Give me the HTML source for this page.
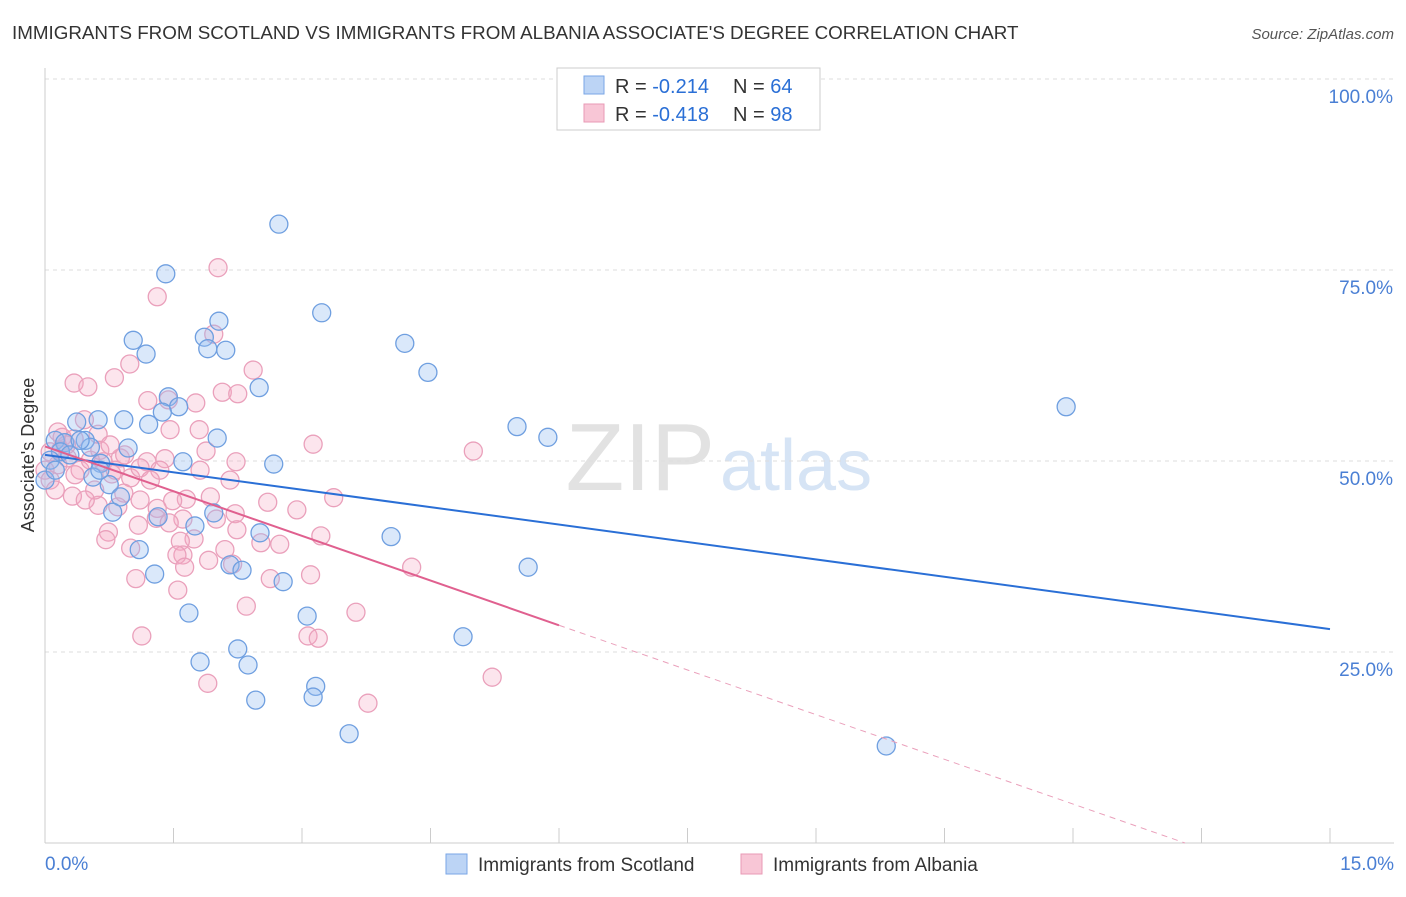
<!DOCTYPE html>
<html><head><meta charset="utf-8"><style>
body{margin:0;background:#fff;font-family:"Liberation Sans",sans-serif}
svg text{font-family:"Liberation Sans",sans-serif}
</style></head><body>
<svg id="chart" width="1406" height="892" xmlns="http://www.w3.org/2000/svg">
<text x="12" y="39" font-size="18.8" fill="#333">IMMIGRANTS FROM SCOTLAND VS IMMIGRANTS FROM ALBANIA ASSOCIATE'S DEGREE CORRELATION CHART</text>
<text x="1394" y="39" font-size="15" fill="#555" text-anchor="end" font-style="italic">Source: ZipAtlas.com</text>
<g>
<text x="715" y="490" font-size="96" fill="#e2e2e2" text-anchor="end" font-family="Liberation Serif">ZIP</text>
<text x="720" y="490" font-size="72" fill="#d6e4f5">atlas</text>
</g>
<g id="grid"></g><g id="axes"></g><g id="pts"></g><g id="trends"></g>
<g>
<rect x="557" y="68" width="263" height="62" fill="#fff" stroke="#ccc"/>
<rect x="584" y="76" width="20" height="18" fill="#bcd4f5" stroke="#7aa6e6"/>
<rect x="584" y="104" width="20" height="18" fill="#f8c6d6" stroke="#e89ab5"/>
<text x="615" y="93" font-size="20" fill="#333">R = <tspan fill="#2a6fd6">-0.214</tspan></text>
<text x="733" y="93" font-size="20" fill="#333">N = <tspan fill="#2a6fd6">64</tspan></text>
<text x="615" y="121" font-size="20" fill="#333">R = <tspan fill="#2a6fd6">-0.418</tspan></text>
<text x="733" y="121" font-size="20" fill="#333">N = <tspan fill="#2a6fd6">98</tspan></text>
</g>
<g>
<rect x="446" y="854" width="21" height="20" fill="#bcd4f5" stroke="#7aa6e6"/>
<text x="478" y="871" font-size="19" fill="#333">Immigrants from Scotland</text>
<rect x="741" y="854" width="21" height="20" fill="#f8c6d6" stroke="#e89ab5"/>
<text x="773" y="871" font-size="19" fill="#333">Immigrants from Albania</text>
</g>
<text x="34" y="455" font-size="18" fill="#333" text-anchor="middle" transform="rotate(-90 34 455)">Associate's Degree</text>
</svg>
<script>
const yTicks=[25,50,75,100];
const yTickLabels=["25.0%","50.0%","75.0%","100.0%"];
const xTickCount=10;
const xEndLabels=["0.0%","15.0%"];
const scotX=[2.73,1.41,3.23,2.03,1.03,1.86,2.11,1.90,1.18,4.20,4.47,2.50,11.92,1.44,1.56,1.37,0.92,0.62,0.37,1.21,5.51,5.87,2.01,0.12,0.23,0.47,0.53,0.97,0.18,1.61,2.67,0.65,0.56,0.75,0.88,0.79,1.97,1.32,1.75,2.51,4.04,1.10,2.16,2.30,2.78,5.64,1.28,1.68,3.06,4.88,2.25,2.37,1.81,3.16,3.13,2.46,3.55,9.82,0.0,0.06,0.12,0.29,0.41,0.64];
const scotY=[81.0,74.5,69.4,68.3,65.8,66.2,64.5,64.7,64.0,65.4,61.6,59.6,57.1,58.4,57.1,56.4,55.4,55.4,55.1,54.8,54.5,53.1,53.0,52.7,52.4,52.7,51.8,51.7,51.2,49.9,49.6,49.7,47.9,46.9,45.3,43.3,43.2,42.7,41.5,40.6,40.1,38.4,36.4,35.7,34.2,36.1,35.2,30.1,29.7,27.0,25.4,23.3,23.7,20.5,19.1,18.7,14.3,12.7,47.5,50.1,48.8,50.8,52.7,48.8];
const albX=[2.02,1.31,1.97,2.43,0.99,0.81,0.34,0.50,2.07,2.25,1.44,1.20,1.76,0.46,0.15,0.62,1.80,0.20,0.34,3.13,5.00,1.88,0.06,0.26,0.88,1.19,1.40,2.23,0.68,0.15,0.41,1.00,1.11,0.78,0.0,0.32,0.62,0.92,0.85,1.93,1.65,1.49,2.60,3.37,2.94,2.22,1.31,2.24,1.30,2.00,1.09,1.61,1.45,1.74,0.74,0.71,1.58,3.22,2.52,2.74,2.10,1.00,1.61,1.54,1.91,2.19,4.28,1.63,1.06,2.63,3.10,1.55,2.35,3.63,1.13,3.07,3.19,5.22,1.90,3.77,0.18,0.06,0.25,0.53,0.64,0.82,0.93,1.11,1.34,0.35,0.58,0.12,0.47,1.23,1.81,2.16,0.76,1.46];
const albY=[75.3,71.5,66.6,61.9,62.7,60.9,60.2,59.7,59.0,58.8,58.0,57.9,57.6,55.4,53.8,53.5,54.1,53.1,52.9,52.2,51.3,51.3,51.2,50.4,50.4,49.9,50.3,49.9,49.9,49.5,48.8,47.8,49.1,48.3,48.8,45.4,44.2,45.8,44.0,45.3,45.0,44.8,44.6,45.2,43.6,43.1,43.8,41.0,42.5,42.4,41.6,42.4,41.9,39.8,40.7,39.7,39.5,40.2,39.3,39.1,38.4,38.6,37.7,37.7,37.0,36.5,36.1,36.1,34.6,34.6,35.1,33.1,31.0,30.2,27.1,27.1,26.8,21.7,20.9,18.3,51.4,47.5,52.1,50.1,51.4,48.8,50.8,44.9,48.8,48.2,46.2,46.2,44.9,47.5,48.8,47.5,52.1,54.1];
const scotTrend=[50.8,28.0];
const albTrend=[51.9,28.5,6.0];
const NS="http://www.w3.org/2000/svg";
const X=v=>45+v/15*1285, Y=v=>843-v*7.64;
function mk(t,a,p){const e=document.createElementNS(NS,t);for(const k in a)e.setAttribute(k,a[k]);(p||document.getElementById('chart')).appendChild(e);return e;}
const grid=document.getElementById('grid'),axes=document.getElementById('axes'),pts=document.getElementById('pts'),tr=document.getElementById('trends');
yTicks.forEach((t,i)=>{
 const l=mk('line',{x1:45,x2:1394,y1:Y(t),y2:Y(t),stroke:'#ddd','stroke-dasharray':'4 4'},grid);
 
 
 const tx=mk('text',{x:1393,y:Y(t)+24,'font-size':19,fill:'#4a7fd4','text-anchor':'end'},axes);
 tx.textContent=yTickLabels[i];
 
 
});
const ax=mk('line',{x1:45,x2:1394,y1:843,y2:843,stroke:'#ccc'},axes);


const ay=mk('line',{x1:45,x2:45,y1:68,y2:843,stroke:'#ccc'},axes);


for(let i=1;i<=xTickCount;i++){
 const t=mk('line',{x1:X(i*1.5),x2:X(i*1.5),y1:828,y2:843,stroke:'#ccc'},axes);
 
 
}
const xl0=mk('text',{x:45,y:870,'font-size':19,fill:'#4a7fd4'},axes);xl0.textContent=xEndLabels[0];


const xl1=mk('text',{x:1394,y:870,'font-size':19,fill:'#4a7fd4','text-anchor':'end'},axes);xl1.textContent=xEndLabels[1];


albX.forEach((x,i)=>{
 const c=mk('circle',{cx:X(x),cy:Y(albY[i]),r:9,fill:'rgba(245,170,195,0.3)',stroke:'#eaa0bb','stroke-width':1.3},pts);
 
 
});
scotX.forEach((x,i)=>{
 const c=mk('circle',{cx:X(x),cy:Y(scotY[i]),r:9,fill:'rgba(150,188,240,0.35)',stroke:'#6f9fe0','stroke-width':1.3},pts);
 
 
});
const bt=mk('line',{x1:X(0),y1:Y(scotTrend[0]),x2:X(15),y2:Y(scotTrend[1]),stroke:'#2a6fd6','stroke-width':2},tr);


const pt=mk('line',{x1:X(0),y1:Y(albTrend[0]),x2:X(albTrend[2]),y2:Y(albTrend[1]),stroke:'#e0608f','stroke-width':2},tr);


const slope=(albTrend[1]-albTrend[0])/albTrend[2], xz=-albTrend[0]/slope;
const pd=mk('line',{x1:X(albTrend[2]),y1:Y(albTrend[1]),x2:X(xz),y2:Y(0),stroke:'#eaa0bb','stroke-width':1,'stroke-dasharray':'6 5'},tr);


</script>
</body></html>
